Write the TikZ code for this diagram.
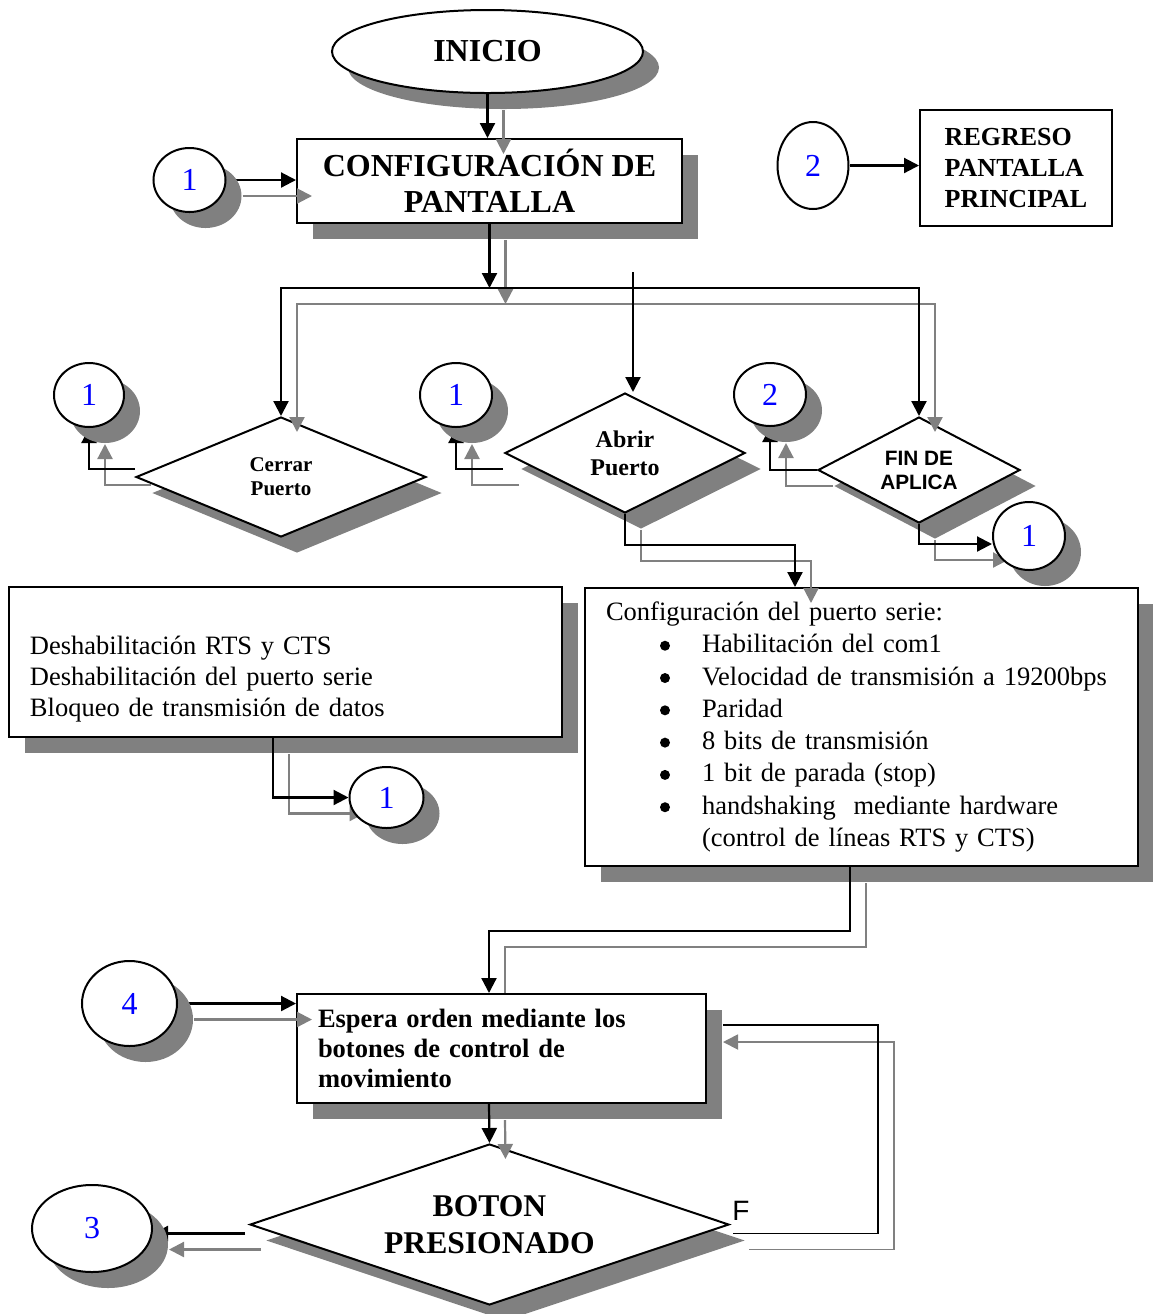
\documentclass[tikz,border=0pt]{standalone}
\usepackage{fontspec}
\setmainfont{Liberation Serif}
\newfontfamily\arialfont{Liberation Sans}
\usetikzlibrary{shapes.geometric,shadows,arrows.meta,calc}
\definecolor{sgray}{HTML}{808080}
\definecolor{numblue}{HTML}{0000FF}
\pgfdeclarelayer{fg}
\pgfsetlayers{main,fg}
\newcommand\fs[2]{\fontsize{#1pt}{#2pt}\selectfont}
\newcommand\bigdot{\raisebox{1pt}{\tikz\fill (0pt,0pt) circle[radius=2.5pt];}}
\newcommand\bul{\hspace*{27pt}\makebox[21pt][l]{\bigdot}}
\begin{document}
\begin{tikzpicture}[x=0.5pt,y=-0.5pt,
  >={Triangle[length=7.5pt,width=7.5pt]},
  shad/.style={drop shadow={shadow xshift=8pt,shadow yshift=-8pt,fill=sgray,opacity=1}},
  box/.style={draw,line width=1pt,fill=white,inner sep=0pt},
  dia/.style={diamond,draw,line width=1pt,fill=white,inner sep=0pt,align=center},
  conn/.style={ellipse,draw,line width=1pt,fill=white,inner sep=0pt,font=\fs{16}{16},text=numblue},
  blk/.style={draw=black,line width=1.1pt,->},
  gry/.style={draw=sgray,line width=1.1pt,->},
  blkline/.style={draw=black,line width=1.1pt},
  gryline/.style={draw=sgray,line width=1.1pt}]
\useasboundingbox (0,0) rectangle (1153,1314);

% ---------- main shapes ----------
\node[ellipse,box,shad,minimum width=155.5pt,minimum height=41.5pt,font=\fs{16}{16}\bfseries] (inicio) at (487.5,51.5) {INICIO};
\node[box,shad,minimum width=192.5pt,minimum height=42pt,font=\fs{16}{18}\bfseries,align=center] (config) at (489.5,181) {CONFIGURACIÓN DE\\PANTALLA};
\node[ellipse,draw,line width=1pt,fill=white,inner sep=0pt,minimum width=35.5pt,minimum height=43.5pt,font=\fs{16}{16},text=numblue] (c2top) at (813,165.5) {2};
\node[box,minimum width=96pt,minimum height=58pt,font=\fs{13}{15.5}\bfseries,align=left] (regreso) at (1016,168) {REGRESO\\PANTALLA\\PRINCIPAL};

\node[dia,shad,shape aspect=2.4,minimum width=145pt,minimum height=60pt,font=\fs{10.5}{12}\bfseries] (cerrar) at (281,477) {Cerrar\\Puerto};
\node[dia,shad,shape aspect=2,minimum width=120pt,minimum height=60pt,font=\fs{12}{14}\bfseries] (abrir) at (625,453) {Abrir\\Puerto};
\node[dia,shad,shape aspect=1.9,minimum width=101pt,minimum height=53pt,font=\arialfont\fs{10.4}{12}\bfseries] (fin) at (919,470) {FIN DE\\APLICA};

\node[box,shad,text width=255.5pt,inner xsep=10.5pt,minimum height=75pt,font=\fs{13.25}{15.5},align=left] (deshab) at (285.5,662)
 {\strut\\Deshabilitación RTS y CTS\\Deshabilitación del puerto serie\\Bloqueo de transmisión de datos};

\node[box,shad,text width=255.5pt,inner xsep=10.5pt,minimum height=139pt,font=\fs{13.25}{16.15},align=left] (puerto) at (861.5,727)
 {Configuración del puerto serie:\\
  \bul Habilitación del com1\\
  \bul Velocidad de transmisión a 19200bps\\
  \bul Paridad\\
  \bul 8 bits de transmisión\\
  \bul 1 bit de parada (stop)\\
  \bul handshaking\ \ mediante hardware\\
  \hspace*{48pt}(control de líneas RTS y CTS)};

\node[box,shad,text width=183.5pt,inner xsep=10.5pt,minimum height=54.5pt,font=\fs{13.25}{15}\bfseries,align=left] (espera) at (501.5,1048.5)
 {Espera orden mediante los\\botones de control de\\movimiento};

\node[dia,shad,shape aspect=3,minimum width=239.5pt,minimum height=80.5pt,font=\fs{15.8}{18.5}\bfseries] (boton) at (489.5,1224.5) {BOTON\\PRESIONADO};
\node[anchor=base west,inner sep=0pt,font=\arialfont\fs{14}{14}] (flab) at (732,1220) {F};

\coordinate (bar) at (489,288);
\coordinate (midtop) at (633,272);
\coordinate (pin) at ($(puerto.north)+(-66.5,0)$);

% ---------- connector circles (foreground) ----------
\begin{pgfonlayer}{fg}
\node[conn,shad,minimum width=36pt,minimum height=32pt] (c1a) at (189.5,180) {1};
\node[conn,shad,minimum width=35pt,minimum height=32pt] (c1b) at (89,395) {1};
\node[conn,shad,minimum width=36pt,minimum height=32pt] (c1c) at (456,395) {1};
\node[conn,shad,minimum width=36pt,minimum height=31.5pt] (c2b) at (770,394.5) {2};
\node[conn,shad,minimum width=36pt,minimum height=34pt] (c1d) at (1029,536) {1};
\node[conn,shad,minimum width=37pt,minimum height=30.5pt] (c1e) at (386.5,797.5) {1};
\node[conn,shad,minimum width=47.5pt,minimum height=42.5pt] (c4) at (129.5,1003.5) {4};
\node[conn,shad,minimum width=60pt,minimum height=43.5pt] (c3) at (92,1228.5) {3};
\end{pgfonlayer}

% ---------- gray connector shadows ----------
\draw[gry] ($(inicio.south)+(16,16)$) -- ($(inicio.south |- config.north)+(16,16)$);
\draw[gry] ($(config.south)+(16,16)$) -- ($(config.south |- bar)+(16,16)$);
\draw[gry,<->] ($(cerrar.north)+(16,16)$) -- ($(cerrar.north |- bar)+(16,16)$) -- ($(fin.north |- bar)+(16,16)$) -- ($(fin.north)+(16,16)$);
\draw[gry] ($(c1a.east)+(16,16)$) -- ($(c1a.east -| config.west)+(16,16)$);
\draw[gry] ($(cerrar.west)+(16,8)$) -| ($(c1b.south)+(16,16)$);
\draw[gry] ($(abrir.west)+(15,32)$) -| ($(c1c.south)+(16,16)$);
\draw[gry] ($(fin.west)+(16,16)$) -| ($(c2b.south)+(16,16)$);
\draw[gry] ($(fin.south)+(16,16)$) |- ($(c1d.west)+(16,24)$);
\draw[gry] ($(abrir.south)+(16,16)$) -- ++(0,31) -| ($(pin)+(16,16)$);
\draw[gry] ($(deshab.south)+(3.5,16)$) |- ($(c1e.west)+(16,16)$);
\draw[gryline] ($(puerto.south)+(4.5,16)$) -- ++(0,64) -| ($(espera.north)+(3.5,0)$);
\draw[gry] ($(c4.east)+(16,16)$) -- ($(c4.east -| espera.west)+(16,16)$);
\draw[gry] ($(espera.south)+(3.5,16)$) -- ($(boton.north)+(16,16)$);
\draw[gry,line width=0.9pt] ($(boton.east)+(19,25)$) -- ++(145,0) |- ($(espera.north east)+(16,49)$);
\draw[gry] ($(boton.west)+(12,25)$) -- ($(boton.west -| c3.east)+(16,25)$);

% ---------- black connectors ----------
\draw[blk] (inicio.south) -- (inicio.south |- config.north);
\draw[blk] (config.south) -- (config.south |- bar);
\draw[blk,<->] (cerrar.north) -- (cerrar.north |- bar) -- (fin.north |- bar) -- (fin.north);
\draw[blk] (midtop) -- (midtop |- abrir.north);
\draw[blk] (c1a.east) -- (c1a.east -| config.west);
\draw[blk] (c2top.east) -- (c2top.east -| regreso.west);
\draw[blk] ($(cerrar.west)+(0,-8)$) -| (c1b.south);
\draw[blk] ($(abrir.west)+(-1,16)$) -| (c1c.south);
\draw[blk] (fin.west) -| (c2b.south);
\draw[blk] (fin.south) |- ($(c1d.west)+(0,8)$);
\draw[blk] (abrir.south) -- ++(0,31) -| (pin);
\draw[blk] ($(deshab.south)+(-12.5,0)$) |- (c1e.west);
\draw[blk] ($(puerto.south)+(-11.5,0)$) -- ++(0,64) -| ($(espera.north)+(-12.5,0)$);
\draw[blk] (c4.east) -- (c4.east -| espera.west);
\draw[blk] ($(espera.south)+(-12.5,0)$) -- (boton.north);
\draw[blkline,line width=0.9pt] ($(boton.east)+(3,9)$) -- ++(145,0) |- ($(espera.north east)+(16,32)$);
\draw[blk] ($(boton.west)+(-4,9)$) -- ($(boton.west -| c3.east)+(0,9)$);
\end{tikzpicture}
\end{document}
